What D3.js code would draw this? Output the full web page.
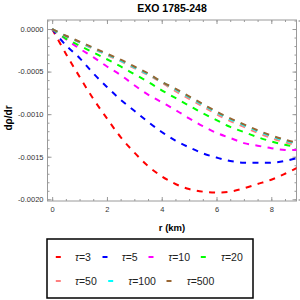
<!DOCTYPE html>
<html>
<head>
<meta charset="utf-8">
<script src="https://cdn.jsdelivr.net/npm/d3@7"></script>
<style>
body { margin: 0; background: #fff; }
svg { display: block; font-family: "Liberation Sans", Arial, sans-serif; }
</style>
</head>
<body>
<svg width="300" height="300"></svg>
<script>
// r in km
var rVals = [0, 0.5, 1, 1.5, 2, 2.5, 3, 3.5, 4, 4.5, 5, 5.5, 6, 6.5, 7, 7.5, 8, 8.5, 9];

var tau3   = [0, -0.00029, -0.00056, -0.00082, -0.00105, -0.00127, -0.00145, -0.00161, -0.00173, -0.00182, -0.00188, -0.00191, -0.00192, -0.00191, -0.00187, -0.00182, -0.00177, -0.00170, -0.00162];
var tau5   = [0, -0.00019, -0.00034, -0.00052, -0.00068, -0.00083, -0.00096, -0.00109, -0.00121, -0.00131, -0.00139, -0.00146, -0.00151, -0.00155, -0.00157, -0.00157, -0.00157, -0.00155, -0.00151];
var tau10  = [0, -0.00012, -0.00023, -0.00033, -0.00044, -0.00054, -0.00066, -0.00077, -0.00086, -0.00095, -0.00105, -0.00114, -0.00122, -0.00128, -0.00134, -0.00137, -0.00140, -0.00142, -0.00142];
var tau20  = [0, -0.000112, -0.000195, -0.000275, -0.000355, -0.00044, -0.00053, -0.00062, -0.00072, -0.00081, -0.00090, -0.00099, -0.00107, -0.00115, -0.00121, -0.00127, -0.00132, -0.00136, -0.00139];
var tau50  = [0, -0.000085, -0.000158, -0.000233, -0.000305, -0.000378, -0.00046, -0.00054, -0.00063, -0.00073, -0.00082, -0.00091, -0.00100, -0.00108, -0.00115, -0.00122, -0.00128, -0.00133, -0.00137];
var tau100 = [0, -0.000082, -0.000153, -0.000227, -0.000298, -0.00037, -0.00045, -0.00053, -0.00062, -0.00071, -0.00080, -0.00089, -0.00098, -0.00106, -0.00113, -0.00120, -0.00126, -0.00131, -0.00135];
var tau500 = [0, -0.000079, -0.000148, -0.00022, -0.00029, -0.00036, -0.00044, -0.00052, -0.00062, -0.00070, -0.00079, -0.00088, -0.00097, -0.00105, -0.00112, -0.00119, -0.00125, -0.00130, -0.00134];

var tauLabels = ["3", "5", "10", "20", "50", "100", "500"];
var colors = ["#ff0000", "#0000ff", "#ff00ff", "#00ff00", "#ff8080", "#00ffff", "#996633"];
var series = [tau3, tau5, tau10, tau20, tau50, tau100, tau500];

var xTicks = [0, 2, 4, 6, 8];
var yTicks = [0, -0.0005, -0.0010, -0.0015, -0.0020];

var svg = d3.select("svg");
var pLeft = 47.5, pRight = 296.5, pTop = 20, pBottom = 201;

var x = d3.scaleLinear().domain([-0.17, 8.92]).range([pLeft, pRight]);
var y = d3.scaleLinear().domain([-0.00202, 0.000106]).range([pBottom, pTop]);

var frameColor = "#9a9a9a";

svg.append("defs").append("clipPath").attr("id", "clip")
  .append("rect").attr("x", pLeft).attr("y", pTop)
  .attr("width", pRight - pLeft).attr("height", pBottom - pTop);

// minor tick values
var xMinor = d3.range(0, 9.01, 0.5);
var yMinor = d3.range(-20, 2).map(function(i) { return i * 0.0001; });

function styleAxis(g) {
  g.select(".domain").remove();
  g.selectAll("line").attr("stroke", frameColor);
  g.selectAll("text").attr("fill", "#333").style("font-size", "7.5px")
    .style("font-family", '"Liberation Sans", Arial, sans-serif');
}

// bottom
svg.append("g").attr("transform", "translate(0," + pBottom + ")")
  .call(d3.axisBottom(x).tickValues(xMinor).tickSize(-2).tickFormat(""))
  .call(styleAxis);
svg.append("g").attr("transform", "translate(0," + pBottom + ")")
  .call(d3.axisBottom(x).tickValues(xTicks).tickSize(-4).tickPadding(6).tickFormat(d3.format("d")))
  .call(styleAxis);
// top
svg.append("g").attr("transform", "translate(0," + pTop + ")")
  .call(d3.axisTop(x).tickValues(xMinor).tickSize(-2).tickFormat(""))
  .call(styleAxis);
svg.append("g").attr("transform", "translate(0," + pTop + ")")
  .call(d3.axisTop(x).tickValues(xTicks).tickSize(-4).tickFormat(""))
  .call(styleAxis);
// left
svg.append("g").attr("transform", "translate(" + pLeft + ",0)")
  .call(d3.axisLeft(y).tickValues(yMinor).tickSize(-2).tickFormat(""))
  .call(styleAxis);
svg.append("g").attr("transform", "translate(" + pLeft + ",0)")
  .call(d3.axisLeft(y).tickValues(yTicks).tickSize(-4).tickPadding(4)
    .tickFormat(function(d) { return d3.format(".4f")(d).replace("−", "-"); }))
  .call(styleAxis);
// right
svg.append("g").attr("transform", "translate(" + pRight + ",0)")
  .call(d3.axisRight(y).tickValues(yMinor).tickSize(-2).tickFormat(""))
  .call(styleAxis);
svg.append("g").attr("transform", "translate(" + pRight + ",0)")
  .call(d3.axisRight(y).tickValues(yTicks).tickSize(-4).tickFormat(""))
  .call(styleAxis);

svg.append("rect")
  .attr("x", pLeft).attr("y", pTop)
  .attr("width", pRight - pLeft).attr("height", pBottom - pTop)
  .attr("fill", "none").attr("stroke", frameColor).attr("stroke-width", 1);

var line = d3.line()
  .x(function(d, i) { return x(rVals[i]); })
  .y(function(d) { return y(d); })
  .curve(d3.curveCatmullRom);

svg.append("g").attr("clip-path", "url(#clip)")
  .selectAll("path")
  .data(series)
  .enter().append("path")
  .attr("d", line)
  .attr("fill", "none")
  .attr("stroke", function(d, i) { return colors[i]; })
  .attr("stroke-width", 2)
  .attr("stroke-dasharray", "6,6.4");

// titles
svg.append("text")
  .attr("x", (pLeft + pRight) / 2).attr("y", 12)
  .attr("text-anchor", "middle")
  .style("font-size", "10.5px").style("font-weight", "bold")
  .text("EXO 1785-248");

svg.append("text")
  .attr("transform", "translate(12,118) rotate(-90)")
  .attr("text-anchor", "middle")
  .style("font-size", "10px").style("font-weight", "bold")
  .text("dρ/dr");

svg.append("text")
  .attr("x", (pLeft + pRight) / 2).attr("y", 231)
  .attr("text-anchor", "middle")
  .style("font-size", "9.5px").style("font-weight", "bold")
  .text("r (km)");

// legend
var legendDashX = [58.3, 105, 151, 203.3, 58.3, 110.7, 169];
var legendTextX = [75, 121.7, 168.3, 221, 75, 128.3, 186.7];
var legendRowY = [257, 281];

svg.append("rect")
  .attr("x", 47).attr("y", 239).attr("width", 206).attr("height", 59)
  .attr("fill", "none").attr("stroke", "#000").attr("stroke-width", 1.5);

var items = svg.append("g").selectAll("g")
  .data(tauLabels)
  .enter().append("g")
  .attr("transform", function(d, i) { return "translate(0," + legendRowY[i < 4 ? 0 : 1] + ")"; });

items.append("line")
  .attr("x1", function(d, i) { return legendDashX[i] - 2.5; })
  .attr("x2", function(d, i) { return legendDashX[i] + 2.5; })
  .attr("stroke", function(d, i) { return colors[i]; })
  .attr("stroke-width", 2);

var lt = items.append("text")
  .attr("x", function(d, i) { return legendTextX[i]; })
  .attr("dy", "0.36em")
  .style("font-size", "10.5px")
  .attr("fill", "#222");
lt.append("tspan").style("font-style", "italic").text("τ");
lt.append("tspan").text(function(d) { return "=" + d; });
</script>
</body>
</html>
